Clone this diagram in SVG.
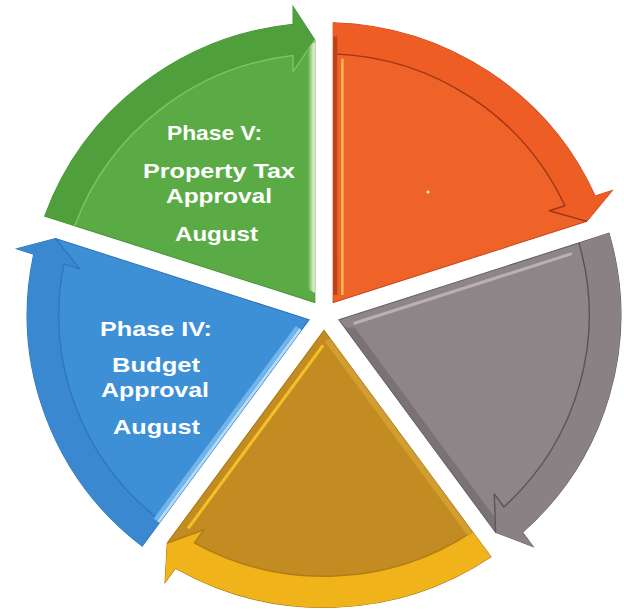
<svg xmlns="http://www.w3.org/2000/svg" width="624" height="610" viewBox="0 0 624 610">
  <defs>
    <!-- One 72-degree wedge (end edge pointing straight up), reused for every phase by rotation -->
    <path id="sil" d="M -9,-12.39 L -273.86,-98.44 A 291 291 0 0 1 -30.4,-289.4 L -30.4,-307 L -9,-273.85 Z"/>
    <path id="band" d="M -273.86,-98.44 A 291 291 0 0 1 -30.4,-289.4 L -30.4,-307 L -9,-273.85 L -30.4,-242.1 L -30.4,-258.2 A 260 260 0 0 0 -244.35,-88.85 Z"/>
    <path id="seam" d="M -244.35,-88.85 A 260 260 0 0 1 -30.4,-258.2 L -30.4,-242.1 L -9,-273.85"/>
    <linearGradient id="greenEdge" x1="0" y1="0" x2="1" y2="0">
      <stop offset="0" stop-color="#5aab45"/>
      <stop offset="0.6" stop-color="#b9dea2"/>
      <stop offset="1" stop-color="#eef7e4"/>
    </linearGradient>
  </defs>
  <style>
    .label { font-family: "Liberation Sans", Arial, sans-serif; font-weight: bold; font-size: 21px; fill: #ffffff; text-anchor: middle; }
    .seam { fill: none; stroke-width: 1.4; stroke-linejoin: round; }
  </style>

  <rect width="624" height="610" fill="#ffffff"/>

  <!-- Phase V (green) -->
  <g id="phase-v">
    <g transform="translate(324,315) scale(1.02,1.005) rotate(0)">
      <use href="#sil" fill="#5aab45" stroke="#469236" stroke-width="1"/>
      <use href="#band" fill="#4f9f3c"/>
      <use href="#seam" class="seam" stroke="#7dc463"/>
      <polygon points="-9,-22 -9,-272 -16,-266 -16,-26" fill="url(#greenEdge)"/>
    </g>
    <text class="label" x="214.5" y="140" textLength="95" lengthAdjust="spacingAndGlyphs">Phase V:</text>
    <text class="label" x="219" y="178" textLength="152" lengthAdjust="spacingAndGlyphs">Property Tax</text>
    <text class="label" x="219" y="203" textLength="106" lengthAdjust="spacingAndGlyphs">Approval</text>
    <text class="label" x="216.5" y="241" textLength="83" lengthAdjust="spacingAndGlyphs">August</text>
  </g>

  <!-- Phase I (orange) -->
  <g id="phase-i">
    <g transform="translate(324,315) scale(1.02,1.005) rotate(72)">
      <use href="#sil" fill="#ef6329" stroke="#c8441a" stroke-width="1"/>
      <use href="#band" fill="#ee5d24"/>
      <use href="#seam" class="seam" stroke="#9e3516"/>
      <polygon points="-16.24,-14.74 -260.67,-94.15 -259.43,-97.95 -15.00,-18.54" fill="#b9441c"/>
      <line x1="-13.46" y1="-23.3" x2="-236.97" y2="-95.92" stroke="#f7c35b" stroke-width="2.5" opacity="0.9"/>
    </g>
    <circle cx="428" cy="192" r="1.5" fill="#fbe9e0"/>
  </g>

  <!-- Phase II (gray) -->
  <g id="phase-ii">
    <g transform="translate(324,315) scale(1.02,1.005) rotate(144)">
      <use href="#sil" fill="#8d8587" stroke="#675f61" stroke-width="1"/>
      <use href="#band" fill="#898183"/>
      <use href="#seam" class="seam" stroke="#5a5456"/>
      <line x1="-18.52" y1="-23.89" x2="-232.52" y2="-93.42" stroke="#b8b1b3" stroke-width="3"/>
      <polygon points="-9,-22 -9,-272 -17,-262 -17,-28" fill="#6e6668" opacity="0.6"/>
    </g>
  </g>

  <!-- Phase III (gold) -->
  <g id="phase-iii">
    <g transform="translate(324,315) scale(1.02,1.005) rotate(216)">
      <use href="#sil" fill="#c38c22" stroke="#a8760f" stroke-width="1"/>
      <use href="#band" fill="#f0b41a"/>
      <use href="#seam" class="seam" stroke="#b27c14"/>
      <line x1="-17" y1="-25" x2="-17" y2="-250" stroke="#f5c027" stroke-width="3"/>
      <polygon points="-18.14,-15.36 -246.41,-89.52 -244.56,-95.23 -16.29,-21.07" fill="#d9a536" opacity="0.7"/>
    </g>
  </g>

  <!-- Phase IV (blue) -->
  <g id="phase-iv">
    <g transform="translate(324,315) scale(1.02,1.005) rotate(288)">
      <use href="#sil" fill="#3d8fd6" stroke="#2c73b8" stroke-width="1"/>
      <use href="#band" fill="#3a89d0"/>
      <use href="#seam" class="seam" stroke="#2d78c0"/>
      <polygon points="-21.0,-16.29 -246.41,-89.52 -245.48,-92.37 -20.07,-19.14" fill="#b4dcf8"/>
      <polygon points="-20.07,-19.14 -245.48,-92.37 -244.25,-96.18 -18.84,-22.95" fill="#72b5ea"/>
    </g>
    <text class="label" x="156" y="336" textLength="112" lengthAdjust="spacingAndGlyphs">Phase IV:</text>
    <text class="label" x="156" y="372" textLength="88" lengthAdjust="spacingAndGlyphs">Budget</text>
    <text class="label" x="155" y="397" textLength="108" lengthAdjust="spacingAndGlyphs">Approval</text>
    <text class="label" x="156.5" y="434" textLength="87" lengthAdjust="spacingAndGlyphs">August</text>
  </g>
</svg>
